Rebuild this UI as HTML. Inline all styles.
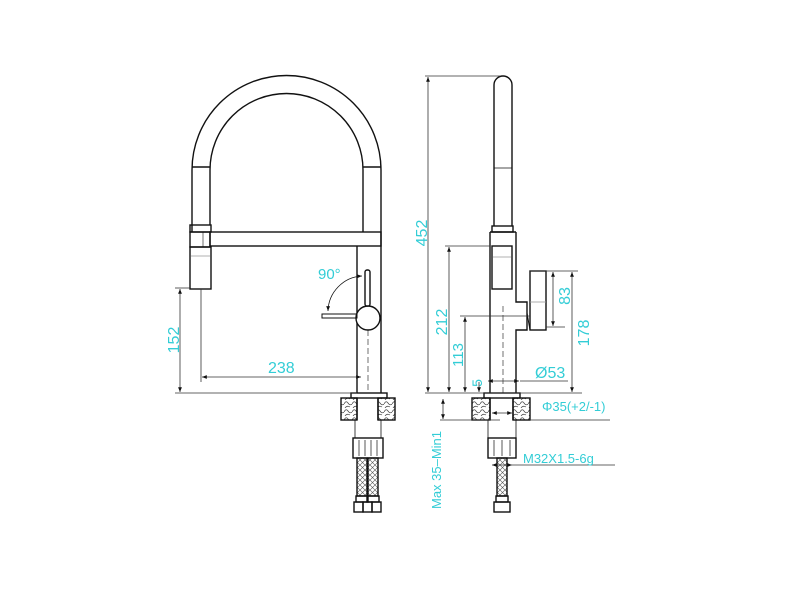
<!DOCTYPE html>
<html><head><meta charset="utf-8"><style>
html,body{margin:0;padding:0;background:#fff;width:800px;height:600px;overflow:hidden}
svg{display:block}
text{font-family:"Liberation Sans",sans-serif;fill:#33cdd6}
</style></head><body>
<svg width="800" height="600" viewBox="0 0 800 600" xmlns="http://www.w3.org/2000/svg">
<defs>
<marker id="a" viewBox="0 0 10 10" refX="10" refY="5" markerWidth="6" markerHeight="6" orient="auto-start-reverse"><path d="M0,1 L10,5 L0,9z" fill="#111"/></marker>
<pattern id="st" width="8" height="8" patternUnits="userSpaceOnUse"><path d="M0,4 Q2,0 4,3 T8,4 M1,8 Q3,5 6,7" stroke="#444" stroke-width="0.7" fill="none"/></pattern>
<pattern id="br" width="5" height="5" patternUnits="userSpaceOnUse"><path d="M0,0 L5,5 M5,0 L0,5" stroke="#555" stroke-width="0.6"/></pattern>
</defs>
<g fill="none" stroke="#111" stroke-width="1.4">
<path d="M192,232 L192,170 A94.5,94.5 0 0 1 381,170 L381,232"/>
<path d="M210,225 L210,170 A76.5,76.5 0 0 1 363,170 L363,232"/>
<line x1="192" y1="167" x2="210" y2="167"/><line x1="363" y1="167" x2="381" y2="167"/>
<rect x="190" y="225" width="21" height="7"/>
<rect x="190" y="232" width="20" height="15"/>
<line x1="203" y1="232" x2="203" y2="247" stroke-width="0.6"/>
<rect x="190" y="247" width="21" height="42"/>
<line x1="191" y1="256" x2="210" y2="256" stroke="#999" stroke-width="0.8"/>
<rect x="210" y="232" width="171" height="14"/>
<path d="M357,246 L357,393 M381,232 L381,393"/>
<line x1="368" y1="330" x2="368" y2="393" stroke-dasharray="6,3" stroke-width="0.6"/>
<circle cx="368" cy="318" r="12" fill="#fff"/>
<rect x="365" y="270" width="5" height="36" rx="2" fill="#fff"/>
<rect x="322" y="314" width="35" height="4" stroke-width="1"/>
<path d="M362,276 A36,36 0 0 0 328,311" stroke-width="0.8" marker-start="url(#a)" marker-end="url(#a)"/>
<rect x="351" y="393" width="36" height="5"/>
<rect x="341" y="398" width="16" height="22" fill="url(#st)"/>
<rect x="378" y="398" width="17" height="22" fill="url(#st)"/>
<path d="M357,398 L357,420 M378,398 L378,420"/>
<path d="M355,420 L355,438 M381,420 L381,438 M355,438 L381,438" stroke-width="0.8"/>
<rect x="353" y="438" width="30" height="20"/>
<path d="M359,440 V456 M365,440 V456 M371,440 V456 M377,440 V456" stroke-width="0.7"/>
<rect x="357" y="458" width="10" height="38" fill="url(#br)"/>
<rect x="368" y="458" width="10" height="38" fill="url(#br)"/>
<rect x="356" y="496" width="12" height="6"/><rect x="367" y="496" width="12" height="6"/>
<rect x="354" y="502" width="9" height="10"/><rect x="363" y="502" width="9" height="10"/><rect x="372" y="502" width="9" height="10"/>

<path d="M494,226 L494,85 A9,9 0 0 1 512,85 L512,226"/>
<line x1="494" y1="168" x2="512" y2="168" stroke-width="0.8"/>
<rect x="492" y="226" width="21" height="6"/>
<path d="M490,232 L490,393 M516,232 L516,302 L527,302 L527,330 L516,330 L516,393"/>
<line x1="490" y1="232" x2="516" y2="232"/>
<rect x="492" y="246" width="20" height="43"/>
<line x1="493" y1="257" x2="511" y2="257" stroke="#999" stroke-width="0.8"/>
<rect x="530" y="271" width="16" height="59"/>
<line x1="530" y1="302" x2="546" y2="302" stroke="#999" stroke-width="0.8"/>
<path d="M527,313 L530,330" stroke-width="1"/>
<line x1="503" y1="306" x2="503" y2="393" stroke-dasharray="6,3" stroke-width="0.6"/>
<rect x="484" y="393" width="36" height="5"/>
<rect x="472" y="398" width="18" height="22" fill="url(#st)"/>
<rect x="513" y="398" width="17" height="22" fill="url(#st)"/>
<path d="M490,398 L490,420 M513,398 L513,420"/>
<path d="M488,420 L488,438 M516,420 L516,438" stroke-width="0.8"/>
<rect x="488" y="438" width="28" height="20"/>
<path d="M494,440 V456 M502,440 V456 M510,440 V456" stroke-width="0.7"/>
<rect x="497" y="458" width="10" height="38" fill="url(#br)"/>
<rect x="496" y="496" width="12" height="6"/>
<rect x="494" y="502" width="16" height="10"/>
</g>

<g stroke="#333" stroke-width="0.8" fill="none">
<line x1="175" y1="393" x2="357" y2="393"/>
<line x1="175" y1="288" x2="190" y2="288"/>
<line x1="180" y1="289" x2="180" y2="392" marker-start="url(#a)" marker-end="url(#a)"/>
<line x1="201" y1="289" x2="201" y2="382"/>
<line x1="202" y1="377" x2="361" y2="377" marker-start="url(#a)" marker-end="url(#a)"/>
<line x1="425" y1="76" x2="500" y2="76"/>
<line x1="428" y1="77" x2="428" y2="392" marker-start="url(#a)" marker-end="url(#a)"/>
<line x1="445" y1="246" x2="490" y2="246"/>
<line x1="449" y1="247" x2="449" y2="392" marker-start="url(#a)" marker-end="url(#a)"/>
<line x1="460" y1="316" x2="530" y2="316"/>
<line x1="465" y1="317" x2="465" y2="392" marker-start="url(#a)" marker-end="url(#a)"/>
<line x1="479" y1="382" x2="479" y2="392" marker-end="url(#a)"/>
<line x1="425" y1="393" x2="582" y2="393"/>
<line x1="530" y1="271" x2="578" y2="271"/>
<line x1="546" y1="327" x2="565" y2="327"/>
<line x1="553" y1="272" x2="553" y2="326" marker-start="url(#a)" marker-end="url(#a)"/>
<line x1="572" y1="272" x2="572" y2="392" marker-start="url(#a)" marker-end="url(#a)"/>
<line x1="488" y1="381" x2="519" y2="381" marker-start="url(#a)" marker-end="url(#a)"/>
<line x1="520" y1="381" x2="568" y2="381"/>
<line x1="440" y1="420" x2="500" y2="420"/>
<line x1="443" y1="399" x2="443" y2="419" marker-start="url(#a)" marker-end="url(#a)"/>
<line x1="492" y1="413" x2="512" y2="413" marker-start="url(#a)" marker-end="url(#a)"/>
<line x1="530" y1="420" x2="610" y2="420"/>
<line x1="492" y1="465" x2="512" y2="465" marker-start="url(#a)" marker-end="url(#a)"/>
<line x1="512" y1="465" x2="615" y2="465"/>
</g>

<g font-size="16">
<text x="318" y="279" font-size="15">90°</text>
<text x="268" y="373">238</text>
<text transform="translate(179,340) rotate(-90)" text-anchor="middle">152</text>
<text transform="translate(427,233) rotate(-90)" text-anchor="middle">452</text>
<text transform="translate(447,322) rotate(-90)" text-anchor="middle">212</text>
<text transform="translate(463,355) rotate(-90)" text-anchor="middle" font-size="15">113</text>
<text transform="translate(482,383) rotate(-90)" text-anchor="middle" font-size="14">5</text>
<text transform="translate(570,296) rotate(-90)" text-anchor="middle">83</text>
<text transform="translate(589,333) rotate(-90)" text-anchor="middle">178</text>
<text x="535" y="378">Ø53</text>
<text x="542" y="411" font-size="13">Φ35(+2/-1)</text>
<text x="523" y="463" font-size="13">M32X1.5-6g</text>
<text transform="translate(441,470) rotate(-90)" text-anchor="middle" font-size="13">Max 35–Min1</text>
</g>
</svg>
</body></html>
